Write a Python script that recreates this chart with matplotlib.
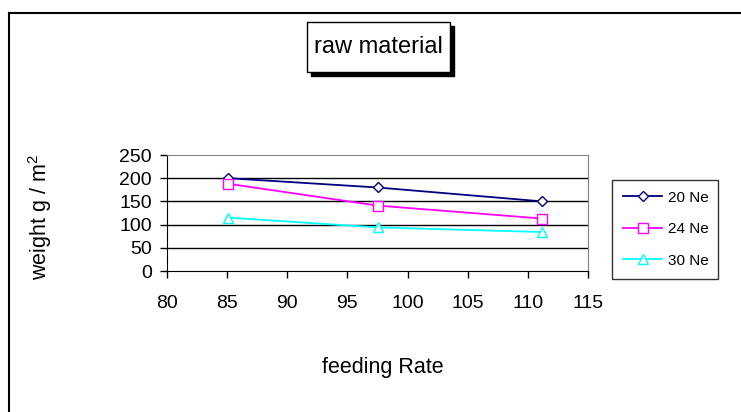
import matplotlib.pyplot as plt
from matplotlib.lines import Line2D
from matplotlib.patches import FancyBboxPatch

plt.rcParams['font.family'] = ['Liberation Sans', 'DejaVu Sans']
plt.rcParams['mathtext.fontset'] = 'custom'
plt.rcParams['mathtext.rm'] = 'Liberation Sans'
plt.rcParams['mathtext.it'] = 'Liberation Sans'

# data
feed_rate = [85.1, 97.5, 111.2]
ne20 = [200, 180, 150]
ne24 = [188, 141, 113]
ne30 = [115, 94, 84]
series_labels = ['20 Ne', '24 Ne', '30 Ne']

W, H = 741, 412
fig = plt.figure(figsize=(W / 100, H / 100), dpi=100)

ax = fig.add_axes([167 / W, 1 - 271 / H, (588 - 167) / W, (271 - 155) / H])
ax.plot(feed_rate, ne20, color='#000080', lw=1.3, marker='D', ms=5.5,
        mfc='white', mec='#000080', label=series_labels[0])
ax.plot(feed_rate, ne24, color='#FF00FF', lw=1.3, marker='s', ms=6.5,
        mfc='white', mec='#FF00FF', label=series_labels[1])
ax.plot(feed_rate, ne30, color='#00FFFF', lw=1.3, marker='^', ms=7,
        mfc='white', mec='#00FFFF', label=series_labels[2])

ax.set_xlim(80, 115)
ax.set_ylim(0, 250)
ax.set_xticks(range(80, 116, 5))
ax.set_yticks(range(0, 251, 50))
for y in [50, 100, 150, 200]:
    ax.axhline(y, color='black', lw=1, zorder=0)
ax.spines['top'].set_color('#808080')
ax.spines['right'].set_color('#808080')
ax.tick_params(labelsize=14, length=5, width=1, direction='out')
ax.tick_params(axis='x', pad=12)
ax.tick_params(axis='y', pad=6)

fig.text(383 / W, 1 - 368 / H, 'feeding Rate', fontsize=15.5, ha='center', va='center')
fig.text(40 / W, 1 - 217 / H, 'weight g / m$^2$', fontsize=15.5, ha='center', va='center',
         rotation=90)

leg = ax.legend(loc='upper left', bbox_to_anchor=(612 / W, 1 - 274 / H, 106 / W, 94 / H),
                bbox_transform=fig.transFigure, mode='expand', fontsize=11,
                frameon=True, fancybox=False, edgecolor='black', borderpad=0.7,
                labelspacing=1.15, handlelength=2.6, handletextpad=0.35, borderaxespad=0)
leg.get_frame().set_linewidth(1)

# title box with shadow
fig.patches.append(FancyBboxPatch((311 / W, 1 - 76 / H), 143 / W, 50 / H,
                                  boxstyle='square,pad=0', transform=fig.transFigure,
                                  facecolor='black', edgecolor='black'))
fig.patches.append(FancyBboxPatch((307 / W, 1 - 72 / H), 143 / W, 50 / H,
                                  boxstyle='square,pad=0', transform=fig.transFigure,
                                  facecolor='white', edgecolor='black', lw=1))
fig.text(378.5 / W, 1 - 47 / H, 'raw material', fontsize=17, ha='center', va='center')

# outer frame (top and left edges only visible)
fig.add_artist(Line2D([8.5 / W, 1], [1 - 13 / H, 1 - 13 / H], color='black', lw=1.5,
                      transform=fig.transFigure))
fig.add_artist(Line2D([8.5 / W, 8.5 / W], [0, 1 - 13 / H], color='black', lw=1.5,
                      transform=fig.transFigure))

fig.savefig('out.png', dpi=100)
